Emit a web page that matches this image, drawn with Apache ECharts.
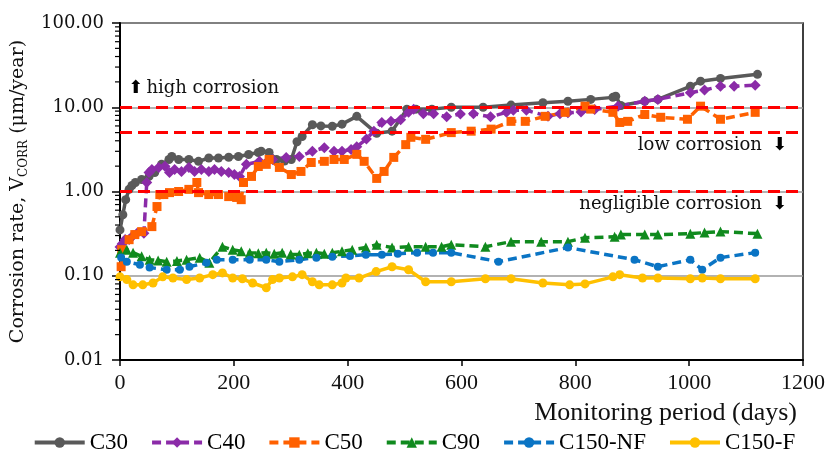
<!DOCTYPE html>
<html>
<head>
<meta charset="utf-8">
<script src="https://cdn.jsdelivr.net/npm/echarts@6/dist/echarts.min.js"></script>
<style>
  html, body { margin: 0; padding: 0; background: #ffffff; }
  #chart { width: 828px; height: 462px; }
</style>
</head>
<body>
<div id="chart"></div>
<script>
// Corrosion rate readings (µm/year) against monitoring time (days)
const c30Days = [0, 5, 10, 16, 21, 27, 38, 51, 61, 73, 86, 91, 103, 121, 138, 156, 173, 191, 208, 226, 243, 248, 262, 275, 289, 301, 311, 320, 338, 353, 373, 390, 416, 451, 478, 504, 520, 548, 582, 638, 687, 743, 787, 827, 866, 871, 880, 922, 945, 1002, 1020, 1055, 1120];
const c30Rate = [0.35, 0.53, 0.8, 1.06, 1.18, 1.28, 1.39, 1.51, 1.68, 2.1, 2.4, 2.6, 2.4, 2.4, 2.28, 2.5, 2.5, 2.55, 2.6, 2.75, 2.9, 3.0, 2.9, 2.4, 2.3, 2.4, 3.9, 4.5, 6.2, 6.0, 5.95, 6.3, 7.8, 4.9, 5.2, 9.5, 9.5, 9.5, 10.0, 10.0, 10.6, 11.3, 11.8, 12.4, 13.1, 13.5, 10.5, 11.8, 12.4, 17.7, 20.4, 22.0, 24.6];

const c40Days = [0, 4, 9, 16, 23, 30, 42, 47, 51, 56, 68, 79, 87, 96, 108, 121, 131, 143, 156, 166, 178, 191, 201, 210, 222, 245, 268, 292, 315, 338, 359, 376, 390, 406, 416, 433, 446, 460, 476, 493, 507, 516, 533, 551, 574, 598, 621, 651, 679, 691, 714, 752, 773, 787, 810, 834, 875, 922, 945, 1002, 1027, 1055, 1079, 1116];
const c40Rate = [0.22, 0.24, 0.27, 0.27, 0.3, 0.32, 0.32, 1.28, 1.68, 1.83, 1.93, 2.0, 1.68, 1.83, 1.73, 1.93, 1.73, 1.83, 1.73, 1.83, 1.73, 1.68, 1.59, 1.51, 2.1, 2.28, 2.4, 2.54, 2.61, 3.0, 3.3, 3.0, 3.0, 3.16, 3.4, 4.2, 5.2, 6.6, 6.8, 7.1, 8.7, 9.5, 8.4, 8.4, 7.7, 8.3, 8.4, 7.7, 8.7, 9.2, 9.2, 7.8, 8.4, 8.6, 8.8, 9.4, 10.3, 11.8, 12.4, 14.9, 16.0, 17.7, 17.7, 18.3];

const c50Days = [2, 3, 16, 26, 38, 56, 65, 70, 77, 87, 103, 121, 135, 138, 156, 173, 191, 205, 213, 217, 231, 243, 257, 262, 280, 301, 318, 336, 359, 376, 394, 416, 429, 451, 464, 481, 502, 511, 537, 582, 617, 652, 687, 712, 747, 782, 817, 827, 866, 878, 892, 922, 950, 997, 1020, 1055, 1116];
const c50Rate = [0.128, 0.204, 0.268, 0.308, 0.334, 0.383, 0.663, 0.92, 0.92, 0.97, 1.0, 1.06, 1.28, 0.97, 0.92, 0.92, 0.87, 0.85, 0.8, 1.28, 1.51, 1.98, 2.1, 2.4, 1.93, 1.59, 1.73, 2.21, 2.28, 2.4, 2.4, 2.76, 2.28, 1.43, 1.73, 2.54, 3.6, 4.4, 4.16, 5.0, 5.2, 5.5, 6.8, 6.8, 7.8, 8.7, 10.3, 9.5, 8.7, 6.6, 6.8, 8.2, 7.6, 7.2, 10.3, 7.2, 8.7];

const c90Days = [0, 12, 23, 38, 52, 67, 82, 100, 117, 140, 157, 180, 198, 213, 228, 243, 257, 271, 285, 300, 315, 330, 345, 359, 373, 390, 408, 432, 451, 478, 507, 537, 565, 582, 642, 687, 740, 787, 817, 869, 880, 922, 945, 1002, 1027, 1055, 1120];
const c90Rate = [0.188, 0.204, 0.188, 0.17, 0.155, 0.152, 0.147, 0.15, 0.155, 0.164, 0.143, 0.221, 0.204, 0.195, 0.188, 0.185, 0.188, 0.182, 0.188, 0.18, 0.178, 0.185, 0.188, 0.182, 0.188, 0.195, 0.204, 0.216, 0.234, 0.216, 0.221, 0.221, 0.221, 0.234, 0.221, 0.254, 0.254, 0.254, 0.283, 0.29, 0.308, 0.308, 0.308, 0.316, 0.325, 0.334, 0.316];

const c150nfDays = [2, 12, 35, 52, 82, 105, 122, 152, 170, 198, 228, 257, 280, 315, 345, 373, 404, 432, 460, 488, 522, 550, 582, 665, 787, 904, 945, 1002, 1023, 1055, 1116];
const c150nfRate = [0.165, 0.147, 0.135, 0.125, 0.118, 0.118, 0.128, 0.143, 0.155, 0.155, 0.155, 0.155, 0.147, 0.155, 0.164, 0.168, 0.172, 0.178, 0.178, 0.182, 0.188, 0.188, 0.188, 0.147, 0.216, 0.155, 0.128, 0.155, 0.118, 0.164, 0.188];

const c150fDays = [0, 12, 23, 40, 58, 75, 93, 117, 140, 163, 180, 198, 215, 233, 257, 268, 280, 303, 320, 338, 350, 373, 390, 397, 420, 450, 478, 507, 537, 582, 642, 687, 743, 790, 817, 866, 878, 918, 945, 1002, 1023, 1055, 1116];
const c150fRate = [0.097, 0.09, 0.078, 0.078, 0.082, 0.097, 0.094, 0.09, 0.094, 0.103, 0.108, 0.094, 0.092, 0.082, 0.072, 0.09, 0.094, 0.097, 0.103, 0.085, 0.078, 0.078, 0.082, 0.094, 0.094, 0.112, 0.128, 0.118, 0.085, 0.085, 0.092, 0.092, 0.082, 0.078, 0.08, 0.097, 0.103, 0.094, 0.094, 0.092, 0.094, 0.092, 0.092];

// Corrosion-level thresholds (µm/year)
const highThreshold = 10;
const lowThreshold = 5;
const negligibleThreshold = 1;

// Minor ticks of the logarithmic rate axis
const minorTickValues = [];
[0.01, 0.1, 1, 10].forEach(function (decade) {
  for (let k = 2; k <= 9; k++) minorTickValues.push(+(decade * k).toPrecision(3));
});

function pairs(days, rates) {
  return days.map(function (d, i) { return [d, rates[i]]; });
}

const serifWide = "'DejaVu Serif', serif";
const serifNarrow = "'Liberation Serif', 'Times New Roman', serif";

function lineSeries(name, days, rates, color, dashed, symbol, size) {
  return {
    name: name,
    type: 'line',
    data: pairs(days, rates),
    symbol: symbol,
    symbolSize: size,
    showSymbol: true,
    itemStyle: { color: color, borderWidth: 0 },
    lineStyle: { color: color, width: 3.5, type: dashed ? [9, 5] : 'solid' },
    emphasis: { disabled: true },
    animation: false,
    z: 3
  };
}

const chart = echarts.init(document.getElementById('chart'), null, { renderer: 'canvas' });

const thresholdLine = { color: '#FF0000', width: 3, type: [12, 6] };
const annotationRich = {
  t: { fontFamily: serifWide, fontSize: 18, color: '#111' },
  a: { fontFamily: "'DejaVu Sans', sans-serif", fontSize: 18, color: '#000' }
};

chart.setOption({
  backgroundColor: '#ffffff',
  animation: false,
  grid: {
    left: 120, right: 22, top: 23, bottom: 102,
    show: true, borderColor: '#000', borderWidth: 1.5, backgroundColor: 'transparent'
  },
  legend: {
    bottom: 3,
    left: 'center',
    itemWidth: 50,
    itemHeight: 13,
    itemGap: 22,
    lineStyle: { width: 4 },
    data: ['C30', 'C40', 'C50', 'C90', 'C150-NF', 'C150-F'],
    textStyle: { fontFamily: serifNarrow, fontSize: 23, color: '#000' }
  },
  xAxis: {
    type: 'value',
    min: 0, max: 1200, interval: 200,
    name: 'Monitoring period (days)',
    nameLocation: 'end',
    nameGap: -6,
    nameTextStyle: {
      fontFamily: serifNarrow, fontSize: 26, color: '#111',
      align: 'right', verticalAlign: 'top', padding: [40, 0, 0, 0]
    },
    axisLine: { show: true, lineStyle: { color: '#000', width: 2 } },
    axisTick: { show: true, inside: false, length: 6, lineStyle: { color: '#000', width: 1.5 } },
    axisLabel: {
      margin: 12, fontFamily: serifNarrow, fontSize: 22, color: '#111',
      formatter: function (v) { return String(v); }
    },
    splitLine: { show: false }
  },
  yAxis: {
    type: 'log',
    logBase: 10,
    min: 0.01, max: 100,
    name: 'Corrosion rate, V{s|CORR} (μm/year)',
    nameLocation: 'middle',
    nameGap: 88,
    nameTextStyle: {
      fontFamily: serifWide, fontSize: 19, color: '#111',
      rich: {
        s: { fontFamily: serifWide, fontSize: 12, color: '#111', verticalAlign: 'bottom', lineHeight: 24, padding: [10, 0, 0, 0] }
      }
    },
    axisLine: { show: true, lineStyle: { color: '#000', width: 2 } },
    axisTick: { show: true, inside: false, length: 8, lineStyle: { color: '#000', width: 1.5 } },
    axisLabel: {
      margin: 16, fontFamily: serifWide, fontSize: 18, color: '#111',
      formatter: function (v) { return Number(v).toFixed(2); }
    },
    splitLine: { show: true, lineStyle: { color: '#999', width: 1.5 } }
  },
  series: [
    lineSeries('C30', c30Days, c30Rate, '#595959', false, 'circle', 9),
    lineSeries('C40', c40Days, c40Rate, '#8B2BA8', true, 'diamond', 11),
    lineSeries('C50', c50Days, c50Rate, '#FF6000', true, 'rect', 9),
    lineSeries('C90', c90Days, c90Rate, '#108A1E', true, 'triangle', 10),
    lineSeries('C150-NF', c150nfDays, c150nfRate, '#0A74C4', true, 'circle', 8),
    lineSeries('C150-F', c150fDays, c150fRate, '#FFC000', false, 'circle', 9),
    {
      name: 'thresholds',
      type: 'line',
      data: [],
      z: 5,
      markLine: {
        silent: true,
        symbol: ['none', 'none'],
        animation: false,
        data: [
          {
            yAxis: highThreshold, lineStyle: thresholdLine,
            label: { show: true, position: 'insideStartTop', distance: [8, 10], formatter: '{a|⬆} {t|high corrosion}', rich: annotationRich }
          },
          {
            yAxis: lowThreshold, lineStyle: thresholdLine,
            label: { show: true, position: 'insideEndBottom', distance: [16, 4], formatter: '{t|low corrosion}   {a|⬇}', rich: annotationRich }
          },
          {
            yAxis: negligibleThreshold, lineStyle: thresholdLine,
            label: { show: true, position: 'insideEndBottom', distance: [16, 4], formatter: '{t|negligible corrosion}   {a|⬇}', rich: annotationRich }
          }
        ]
      }
    },
    {
      name: 'minor ticks',
      type: 'custom',
      data: minorTickValues.map(function (v) { return [0, v]; }),
      clip: false,
      silent: true,
      z: 4,
      renderItem: function (params, api) {
        const p = api.coord([0, api.value(1)]);
        return {
          type: 'line',
          shape: { x1: p[0] - 5, y1: p[1], x2: p[0], y2: p[1] },
          style: { stroke: '#000', lineWidth: 1.2 }
        };
      }
    }
  ]
});
</script>
</body>
</html>
